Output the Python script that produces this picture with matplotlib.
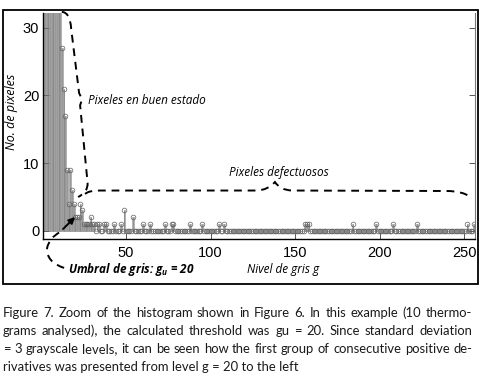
import matplotlib
matplotlib.use('Agg')
import matplotlib.pyplot as plt
import numpy as np
from matplotlib.path import Path
from matplotlib.patches import PathPatch, Rectangle

plt.rcParams['font.family'] = ['Open Sans', 'DejaVu Sans']
plt.rcParams['mathtext.fontset'] = 'custom'
plt.rcParams['mathtext.it'] = 'Open Sans:italic:bold'
plt.rcParams['mathtext.rm'] = 'Open Sans:bold'

W, H = 481, 389

# histogram of gray levels (levels 1-11 run off the top of the axes)
peak_counts = [310, 250, 200, 160, 130, 100, 80, 64, 52, 42, 35]
levels = [12, 13, 14, 15, 16, 17, 18, 19, 20, 21, 22, 23, 24,
          25, 26, 27, 28, 29, 30, 31, 33, 34, 37, 38, 43, 47, 49, 54,
          60, 64, 73, 77, 78, 88, 95, 105, 108, 156, 157, 158,
          184, 198, 208, 222, 252, 256]
counts = [27, 21, 17, 9, 4, 9, 6, 4, 2, 2, 2, 4, 3,
          1, 1, 1, 1, 2, 1, 1, 1, 1, 1, 1, 1, 1, 3, 2,
          1, 1, 1, 1, 1, 1, 1, 1, 1, 1, 1, 1,
          1, 1, 1, 1, 1, 1]
x_ticks = [50, 100, 150, 200, 250]
y_ticks = [0, 10, 20, 30]

gray_levels = np.arange(1, 257)
hist = np.zeros(256)
hist[:len(peak_counts)] = peak_counts
hist[np.array(levels) - 1] = counts

fig = plt.figure(figsize=(W / 100, H / 100), dpi=100)
ax = fig.add_axes([43.3 / W, 1 - 239 / H, (475 - 43.3) / W, (239 - 13) / H])

ax.bar(gray_levels, hist, width=1.0, color='#cfcfcf', edgecolor='#8a8a8a', linewidth=0.4)
ax.vlines(gray_levels, 0, hist, color='#808080', linewidth=0.5)
ax.plot(gray_levels, hist, 'o', mfc='none', mec='#606060', ms=3.4, mew=0.5)

ax.set_xlim(1, 256.5)
ax.set_ylim(-1.23, 32.2)
ax.set_xticks(x_ticks)
ax.set_yticks(y_ticks)
tick_font = {'family': ['Liberation Sans Narrow', 'Liberation Sans'], 'size': 10.5}
ax.set_xticklabels([str(t) for t in x_ticks], fontdict=tick_font)
ax.set_yticklabels([str(t) for t in y_ticks], fontdict=tick_font)
ax.tick_params(direction='in', length=4, width=0.7, color='#555555', right=True)
ax.tick_params(axis='x', pad=5)
ax.tick_params(axis='y', pad=3)
ax.spines['top'].set_visible(False)
ax.spines['right'].set_color('#777777')
for s in ['left', 'bottom']:
    ax.spines[s].set_linewidth(1.0)

# dashed braces
dash = dict(fill=False, edgecolor='black', linewidth=1.4, linestyle=(0, (4, 3)), clip_on=False)
brace_good = Path([(11.95, 32.36), (16.86, 32.32), (17.46, 29.95),
                   (22.19, 20.35), (23.96, 19.44), (22.78, 18.55),
                   (27.22, 7.05), (27.51, 5.72), (21.6, 4.98)],
                  [Path.MOVETO, Path.CURVE3, Path.CURVE3,
                   Path.LINETO, Path.LINETO, Path.LINETO,
                   Path.LINETO, Path.CURVE3, Path.CURVE3])
ax.add_patch(PathPatch(brace_good, **dash))

brace_bad = Path([(25.74, 5.42), (27.51, 5.94), (34.62, 5.94),
                  (127.5, 5.94), (134.0, 6.01), (138.1, 7.2),
                  (141.1, 6.01), (148.2, 5.94),
                  (239.9, 5.87), (248.8, 5.87), (254.1, 4.98)],
                 [Path.MOVETO, Path.CURVE3, Path.CURVE3,
                  Path.LINETO, Path.CURVE3, Path.CURVE3,
                  Path.CURVE3, Path.CURVE3,
                  Path.LINETO, Path.CURVE3, Path.CURVE3])
ax.add_patch(PathPatch(brace_bad, **dash))

umbral = Path([(13.3, -5.51), (2.66, -4.63), (3.25, -2.56),
               (4.44, -1.08), (10.95, -0.19), (12.7, 0.25)],
              [Path.MOVETO, Path.CURVE3, Path.CURVE3,
               Path.CURVE3, Path.CURVE3, Path.LINETO])
ax.add_patch(PathPatch(umbral, **dash))
ax.annotate('', xy=(19.8, 2.02), xytext=(12.7, 0.25),
            arrowprops=dict(arrowstyle='-|>', color='black', lw=1.4,
                            mutation_scale=9, shrinkA=0, shrinkB=0),
            annotation_clip=False)

ann = dict(fontsize=8.5, style='italic', va='center', ha='left', clip_on=False)
ax.text(27.5, 19.3, 'Pixeles en buen estado', **ann)
ax.text(110.9, 8.67, 'Pixeles defectuosos', **ann)
ax.text(121.6, -5.81, 'Nivel de gris g', **ann)
ax.text(15.7, -5.81, r'Umbral de gris: $g_u$ = 20', fontsize=8.5, style='italic',
        weight='bold', va='center', ha='left', clip_on=False)

fig.text(12 / W, 1 - 112 / H, 'No. de pixeles', rotation=90, style='italic',
         fontsize=9, ha='center', va='center')

# frame round the figure
fig.add_artist(Rectangle((3 / W, 1 - 284 / H), 475 / W, 274 / H,
                         transform=fig.transFigure, fill=False,
                         edgecolor='black', linewidth=1.3))

caption = ['Figure 7. Zoom of the histogram shown in Figure 6. In this example (10 thermo-',
           'grams analysed), the calculated threshold was gu = 20. Since standard deviation',
           '= 3 grayscale levels, it can be seen how the first group of consecutive positive de-',
           'rivatives was presented from level g = 20 to the left']
cap_base = [317, 335, 353, 371]
cap_font = dict(family='Lato', fontsize=9.4, color='#1a1a1a')

renderer = fig.canvas.get_renderer()
for i, (line, y) in enumerate(zip(caption, cap_base)):
    if i == len(caption) - 1:
        fig.text(3 / W, 1 - y / H, line, va='baseline', ha='left', **cap_font)
        continue
    words = line.split()
    widths = []
    for w in words:
        t = fig.text(0, 0, w, **cap_font)
        widths.append(t.get_window_extent(renderer).width)
        t.remove()
    gap = (472 - 3 - sum(widths)) / (len(words) - 1)
    x = 3
    for w, wd in zip(words, widths):
        fig.text(x / W, 1 - y / H, w, va='baseline', ha='left', **cap_font)
        x += wd + gap

fig.savefig('out.png', dpi=100)
